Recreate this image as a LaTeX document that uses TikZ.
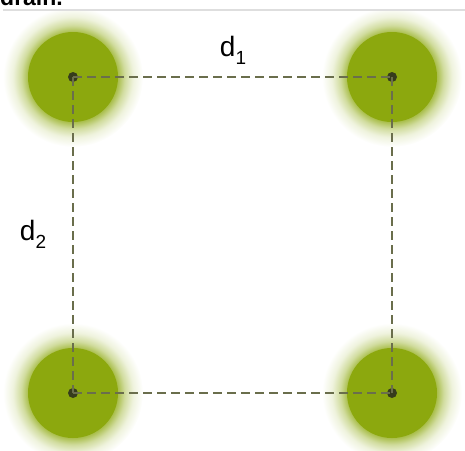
\documentclass[tikz,border=0pt]{standalone}
\usepackage{fontspec}
\setmainfont{Liberation Sans}
\usetikzlibrary{positioning,calc}
\definecolor{leaf}{HTML}{8CA80E}
\definecolor{dashcol}{HTML}{6A6E4C}
\definecolor{dotcol}{HTML}{363C1C}
\pgfdeclareradialshading{glow}{\pgfpoint{0bp}{0bp}}{%
  color(0bp)=(leaf); color(16bp)=(leaf!75); color(18.5bp)=(leaf!40); color(21.5bp)=(leaf!14); color(25bp)=(white); color(50bp)=(white)}
\tikzset{
  halo/.style={circle, minimum size=140pt, inner sep=0pt, shading=glow},
  disc/.style={circle, fill=leaf, minimum size=90pt, inner sep=0pt},
  pin/.style={circle, fill=dotcol, inner sep=0pt, minimum size=10pt},
  link/.style={dash pattern=on 9pt off 5pt, line width=2.8pt, dashcol},
  lab/.style={font=\fontsize{28}{32}\selectfont},
}
\newcommand{\subidx}[1]{\raisebox{-0.28em}{\fontsize{19}{22}\selectfont #1}}
\begin{document}
\begin{tikzpicture}[x=1pt, y=-1pt]
\useasboundingbox (0,0) rectangle (465,450);
\clip (0,0) rectangle (465,450);
% glowing spots
\foreach \n/\x/\y in {tl/73/77, tr/392/77, bl/73/393, br/392/393} {
  \node[halo] at (\x,\y) {};
  \node[disc] at (\x,\y) {};
  \node[pin] (\n) at (\x,\y) {};
}
% caption remains and rule
\fill[white] (0,0) rectangle (465,10);
\node[anchor=base west, inner sep=0pt, font=\fontsize{23}{27}\bfseries\selectfont] (cap) at (0,5) {drain.};
\draw[line width=1.5pt, black!13] (3,10) -- (465,10);
% distances
\draw[link] (tl.center) -- (tr.center);
\draw[link] (tl.center) -- (bl.center);
\draw[link] (bl.center) -- (br.center);
\draw[link] (tr.center) -- (br.center);
\node[lab] (d1) at (233,50) {d\subidx{1}};
\node[lab] (d2) at (33,234) {d\subidx{2}};
\end{tikzpicture}
\end{document}
